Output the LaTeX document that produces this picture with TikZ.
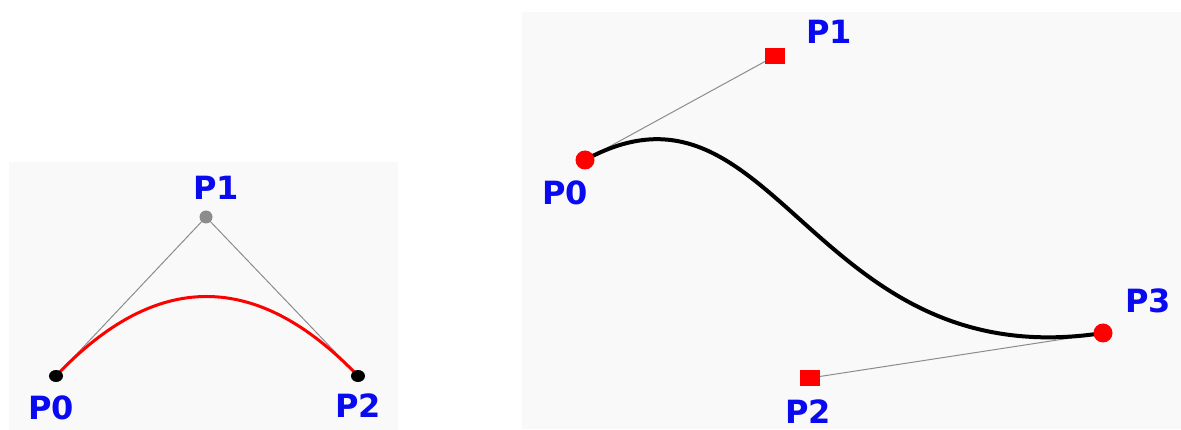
\documentclass[tikz,border=0pt]{standalone}
\usepackage{fontspec}
\setmainfont{DejaVu Sans}
\usepackage{tikz}
\usetikzlibrary{calc,shapes.geometric}
\definecolor{panel}{HTML}{F8F9F8}
\definecolor{lblue}{HTML}{0A0AF0}
\definecolor{ctrlgray}{HTML}{8C8C8C}
\tikzset{
  lbl/.style={text=lblue,inner sep=0pt,font=\fontsize{32}{38}\selectfont\bfseries},
  blackdot/.style={ellipse,fill=black,minimum width=14pt,minimum height=12pt,inner sep=0pt},
  graydot/.style={circle,fill=ctrlgray,minimum size=13pt,inner sep=0pt},
  reddot/.style={circle,fill=red,minimum size=19pt,inner sep=0pt},
  redsq/.style={rectangle,fill=red,minimum width=20pt,minimum height=16pt,inner sep=0pt},
  ctrl/.style={draw=ctrlgray,line width=1pt}
}
\begin{document}
\begin{tikzpicture}[x=1pt,y=-1pt]
\useasboundingbox (0,0) rectangle (1181,430);
% panels
\fill[panel] (9,162) rectangle (398,430);
\fill[panel] (522,12) rectangle (1181,429);
% quadratic
\coordinate (L0) at (56,376);
\coordinate (L1) at (206,217);
\coordinate (L2) at (358,376);
\draw[ctrl] (L0) -- (L1) -- (L2);
\draw[red,line width=3pt] (L0) .. controls ($(L0)!0.6667!(L1)$) and ($(L2)!0.6667!(L1)$) .. (L2);
\node[blackdot] (L0dot) at (L0) {};
\node[graydot] (L1dot) at (L1) {};
\node[blackdot] (L2dot) at (L2) {};
\node[lbl] (L0lbl) at (51,408) {P0};
\node[lbl] (L1lbl) at (216,188) {P1};
\node[lbl] (L2lbl) at (358,406) {P2};
% cubic
\coordinate (R0) at (585,160);
\coordinate (R1) at (775,56);
\coordinate (R2) at (810,378);
\coordinate (R3) at (1103,333);
\draw[ctrl] (R0) -- (R1);
\draw[ctrl] (R2) -- (R3);
\draw[black,line width=4pt] (R0) .. controls (R1) and (R2) .. (R3);
\node[reddot] (R0dot) at (R0) {};
\node[redsq] (R1sq) at (R1) {};
\node[redsq] (R2sq) at (R2) {};
\node[reddot] (R3dot) at (R3) {};
\node[lbl] (R0lbl) at (565,193) {P0};
\node[lbl] (R1lbl) at (829,32) {P1};
\node[lbl] (R2lbl) at (808,412) {P2};
\node[lbl] (R3lbl) at (1148,301) {P3};
\end{tikzpicture}
\end{document}
